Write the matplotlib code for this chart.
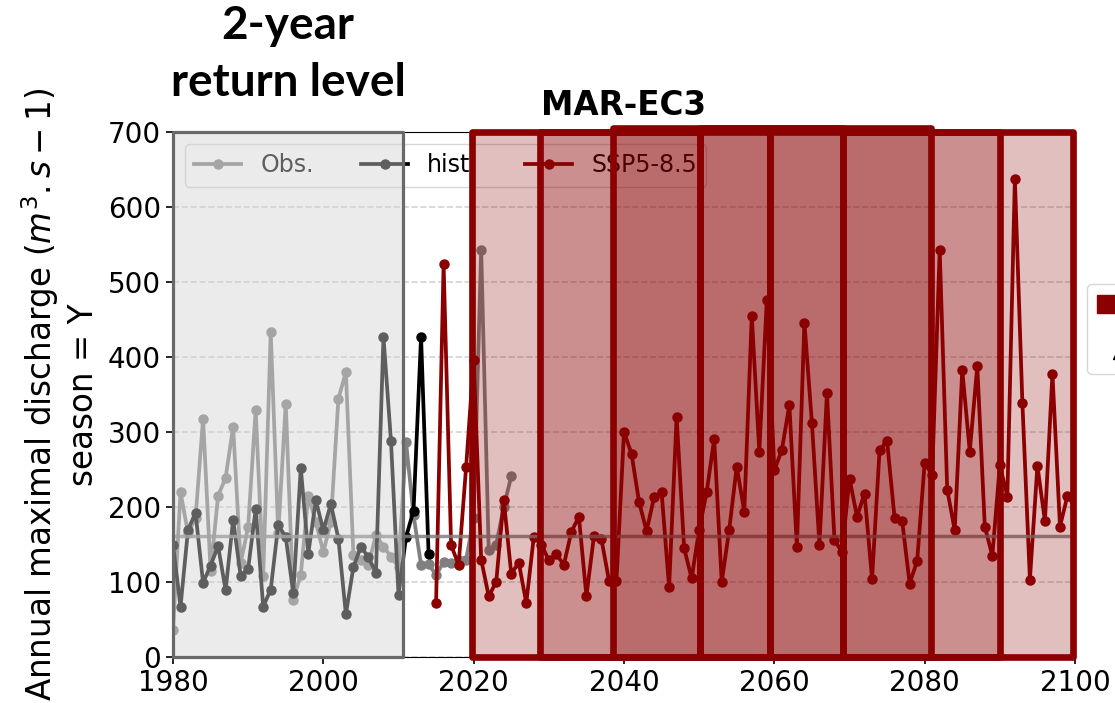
import numpy as np
import matplotlib
matplotlib.use("Agg")
import matplotlib.pyplot as plt
from matplotlib.patches import Rectangle, Patch
from matplotlib.lines import Line2D
from matplotlib.transforms import blended_transform_factory

# ---- data -------------------------------------------------------------
obs_years = list(range(1980, 2026))
obs_vals = [36, 220, 165, 185, 318, 115, 215, 239, 307, 125,
            174, 330, 108, 433, 165, 338, 76, 110, 215, 180,
            140, 180, 344, 380, 136, 129, 123, 163, 147, 134,
            120, 287, 189, 123, 124, 109, 127, 126, 130, 130,
            185, 543, 143, 150, 200, 241]

hist_years = list(range(1980, 2015))
hist_vals = [150, 67, 170, 192, 99, 122, 148, 89, 183, 108,
             118, 197, 67, 90, 176, 160, 85, 252, 138, 209,
             169, 204, 158, 57, 120, 147, 133, 112, 427, 288,
             83, 160, 195, 427, 138]

ssp_years = list(range(2015, 2101))
ssp_vals = [72, 524, 149, 123, 254, 396, 130, 81, 100, 210,
            111, 126, 72, 160, 150, 129, 137, 123, 167, 187,
            81, 161, 157, 102, 102, 300, 271, 207, 168, 213,
            220, 93, 320, 145, 105, 170, 220, 291, 100, 170,
            254, 194, 455, 274, 476, 249, 276, 336, 147, 446,
            312, 150, 352, 156, 140, 238, 187, 218, 104, 276,
            288, 185, 182, 98, 128, 259, 243, 543, 223, 169,
            383, 274, 388, 174, 135, 256, 214, 638, 339, 103,
            255, 181, 378, 174, 215, 200]

return_level_2yr = 161

# reference period and sliding future windows (start, end, top)
ref_period = (1980, 2010.6)
win_starts = [2019.8, 2028.8, 2038.6, 2050.1, 2059.4, 2069.2]
win_ends = [2050.1, 2059.4, 2069.2, 2080.8, 2090.0, 2099.7]
win_tops = [700, 700, 706, 706, 700, 700]

x_ticks = [1980, 2000, 2020, 2040, 2060, 2080, 2100]
y_ticks = [0, 100, 200, 300, 400, 500, 600, 700]

# ---- figure -----------------------------------------------------------
fig = plt.figure(figsize=(11.15, 7.03), dpi=100)
ax = fig.add_axes([173 / 1115, 46 / 703, 902 / 1115, 525 / 703])

line_kw = dict(marker="o", lw=2.7, ms=6.5)
ax.plot(obs_years, obs_vals, color="gray", label="Obs.", **line_kw)
ax.plot(hist_years, hist_vals, color="black", label="hist.", **line_kw)
ax.plot(ssp_years, ssp_vals, color="darkred", label="SSP5-8.5", **line_kw)
ax.axhline(return_level_2yr, color="gray", alpha=0.85, lw=2.5, zorder=2.5)

ax.set_xlim(1980, 2100)
ax.set_ylim(0, 700)
ax.set_xticks(x_ticks)
ax.set_yticks(y_ticks)
ax.tick_params(labelsize=20, width=1.2, length=5)
ax.yaxis.grid(True, linestyle="--", color="lightgray", lw=1.2)
ax.set_axisbelow(True)

ax.set_ylabel("Annual maximal discharge ($m^3.s-1$)\nseason = Y",
              fontsize=23.5, labelpad=6)
ax.set_title("MAR-EC3", fontsize=23.5, fontweight="bold", pad=12)

trans = blended_transform_factory(ax.transData, ax.transAxes)
ax.text(sum(ref_period) / 2, 1.053, "2-year\nreturn level", transform=trans,
        ha="center", va="bottom", fontsize=33, fontweight="bold",
        family="Lato", linespacing=1.45)

leg1 = ax.legend(loc="upper left", ncol=3, fontsize=17)

# period boxes, drawn over lines and legend
ax.add_patch(Rectangle((ref_period[0], 0), ref_period[1] - ref_period[0], 700,
                       facecolor=(0.827, 0.827, 0.827, 0.45), edgecolor="dimgray",
                       lw=2.3, zorder=6, clip_on=False, joinstyle="round"))
for s, e, t in zip(win_starts, win_ends, win_tops):
    ax.add_patch(Rectangle((s, 0), e - s, t,
                           facecolor=(0.545, 0.0, 0.0, 0.25), edgecolor="darkred",
                           lw=4.8, zorder=7, clip_on=False, joinstyle="round"))

leg2 = ax.legend(handles=[Patch(facecolor="darkred", edgecolor="darkred"),
                          Line2D([], [], color="black", marker="^", ls="none", ms=13)],
                 labels=["Future windows", "Trend"],
                 loc="center left", bbox_to_anchor=(1.0, 0.625), fontsize=18,
                 labelspacing=0.9)
ax.add_artist(leg1)

fig.savefig("out.png", dpi=100)
